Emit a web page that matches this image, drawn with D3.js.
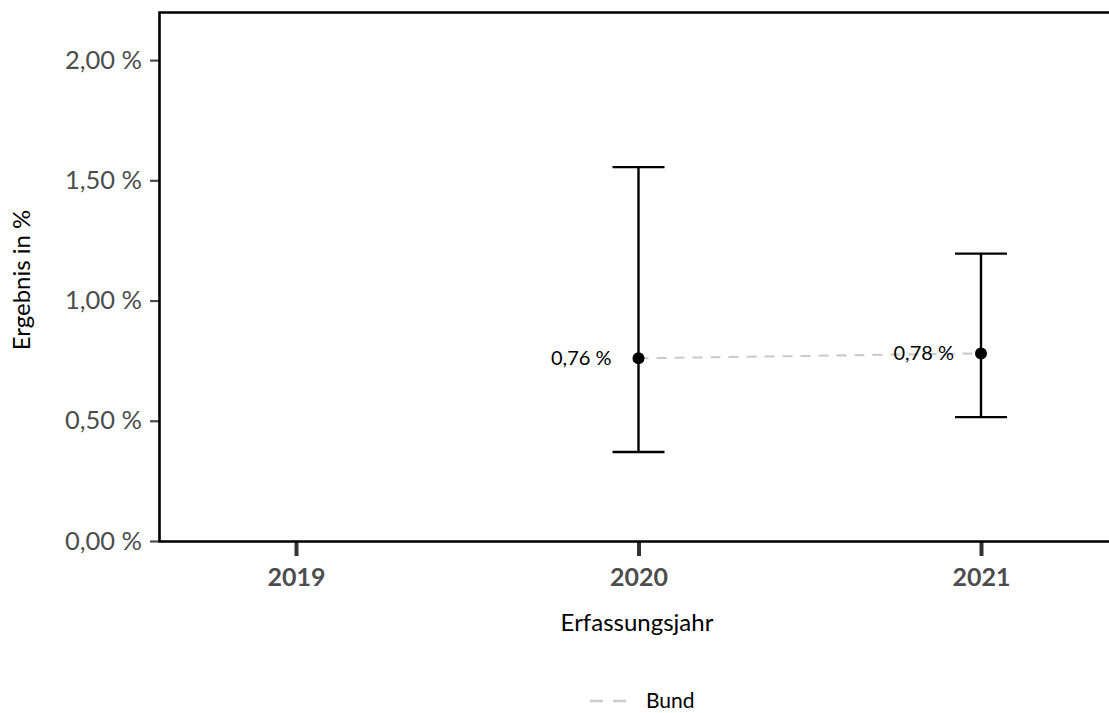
<!DOCTYPE html>
<html><head><meta charset="utf-8">
<script src="https://cdn.jsdelivr.net/npm/d3@7"></script>
<style>body{margin:0;background:#fff}svg{display:block}</style>
</head><body>
<svg id="c" width="1109" height="713"></svg>
<script>
const years = [2019, 2020, 2021];
const values = [null, 0.76, 0.78];
const lower = [null, 0.37, 0.515];
const upper = [null, 1.555, 1.195];
const pointLabels = [null, "0,76 %", "0,78 %"];
const yTicks = [0, 0.5, 1.0, 1.5, 2.0];
const yTickLabels = ["0,00 %", "0,50 %", "1,00 %", "1,50 %", "2,00 %"];
const seriesName = "Bund";

const svg = d3.select("#c");
const font = "Lato, 'Open Sans', sans-serif";
const x = d3.scaleLinear().domain([2018.6, 2021.4]).range([159, 1118]);
const y = d3.scaleLinear().domain([0, 2.2]).range([541, 12]);

// y axis
const ya = svg.append("g").attr("transform", "translate(159,0)")
  .call(d3.axisLeft(y).tickValues(yTicks).tickFormat((d,i)=>yTickLabels[i]).tickSize(9).tickPadding(8));
ya.select(".domain").remove();
ya.selectAll("line").attr("stroke", "#4d4d4d").attr("stroke-width", 2.2);
ya.selectAll("text").attr("font-family", font).attr("font-size", 25.5).attr("fill", "#4d4d4d");

// x axis
const xa = svg.append("g").attr("transform", "translate(0,541)")
  .call(d3.axisBottom(x).tickValues(years).tickFormat(d3.format("d")).tickSize(15).tickPadding(12));
xa.select(".domain").remove();
xa.selectAll("line").attr("stroke", "#333").attr("stroke-width", 4);
xa.selectAll("text").attr("font-family", font).attr("font-size", 25).attr("font-weight", "bold").attr("fill", "#4d4d4d");

// frame
svg.append("path").attr("d", `M1118,12.5H159.5V541.5H1118`).attr("fill","none").attr("stroke","#000").attr("stroke-width",2.6);

const data = years.map((yr,i)=>({yr, v:values[i], lo:lower[i], hi:upper[i], lab:pointLabels[i]})).filter(d=>d.v!=null);

// dashed line
svg.append("path").datum(data)
  .attr("d", d3.line().x(d=>x(d.yr)).y(d=>y(d.v)))
  .attr("fill","none").attr("stroke","#cccccc").attr("stroke-width",2.2).attr("stroke-dasharray","10,8");

// error bars
const cap = 26;
const eb = svg.append("g").selectAll("g").data(data).join("g");
eb.append("line").attr("x1",d=>x(d.yr)).attr("x2",d=>x(d.yr)).attr("y1",d=>y(d.lo)).attr("y2",d=>y(d.hi)).attr("stroke","#000").attr("stroke-width",2.4);
eb.append("line").attr("x1",d=>x(d.yr)-cap).attr("x2",d=>x(d.yr)+cap).attr("y1",d=>y(d.hi)).attr("y2",d=>y(d.hi)).attr("stroke","#000").attr("stroke-width",2.4);
eb.append("line").attr("x1",d=>x(d.yr)-cap).attr("x2",d=>x(d.yr)+cap).attr("y1",d=>y(d.lo)).attr("y2",d=>y(d.lo)).attr("stroke","#000").attr("stroke-width",2.4);
eb.append("circle").attr("cx",d=>x(d.yr)).attr("cy",d=>y(d.v)).attr("r",6).attr("fill","#000");
eb.append("text").attr("x",d=>x(d.yr)-27).attr("y",d=>y(d.v)).attr("dy","0.35em").attr("text-anchor","end")
  .attr("font-family",font).attr("font-size",20).attr("fill","#000").text(d=>d.lab);

// axis titles
svg.append("text").attr("x",637).attr("y",631).attr("text-anchor","middle").attr("font-family",font).attr("font-size",24).attr("fill","#000").text("Erfassungsjahr");
svg.append("text").attr("transform","translate(30,280) rotate(-90)").attr("text-anchor","middle").attr("font-family",font).attr("font-size",24).attr("fill","#000").text("Ergebnis in %");

// legend
svg.append("line").attr("x1",590).attr("x2",626).attr("y1",701).attr("y2",701).attr("stroke","#cccccc").attr("stroke-width",2.4).attr("stroke-dasharray","13,10");
svg.append("text").attr("x",646).attr("y",701).attr("dy","0.35em").attr("font-family",font).attr("font-size",21).attr("fill","#000").text(seriesName);
</script>
</body></html>
